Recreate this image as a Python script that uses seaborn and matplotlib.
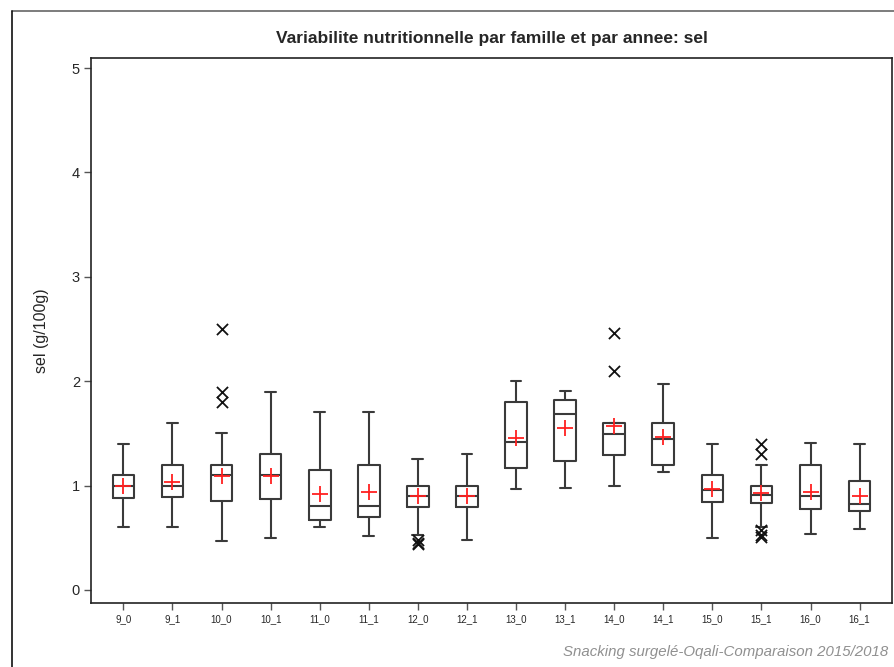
import numpy as np
import pandas as pd
import matplotlib
matplotlib.use("Agg")
import matplotlib.pyplot as plt
from matplotlib.lines import Line2D
import seaborn as sns

# ---- data ----
groups = ["9_0", "9_1", "10_0", "10_1", "11_0", "11_1", "12_0", "12_1",
          "13_0", "13_1", "14_0", "14_1", "15_0", "15_1", "16_0", "16_1"]
whisker_low = [0.60, 0.60, 0.47, 0.50, 0.60, 0.52, 0.53, 0.48,
               0.97, 0.98, 1.00, 1.13, 0.50, 0.60, 0.54, 0.58]
q1 = [0.88, 0.89, 0.85, 0.87, 0.67, 0.70, 0.79, 0.79,
      1.17, 1.24, 1.29, 1.20, 0.84, 0.83, 0.78, 0.76]
median = [1.00, 1.00, 1.10, 1.10, 0.80, 0.80, 0.90, 0.90,
          1.42, 1.69, 1.49, 1.45, 0.96, 0.91, 0.90, 0.82]
q3 = [1.10, 1.20, 1.20, 1.30, 1.15, 1.20, 1.00, 1.00,
      1.80, 1.82, 1.60, 1.60, 1.10, 1.00, 1.20, 1.04]
whisker_high = [1.40, 1.60, 1.50, 1.90, 1.70, 1.70, 1.25, 1.30,
                2.00, 1.91, 1.60, 1.97, 1.40, 1.20, 1.41, 1.40]
means = [1.00, 1.03, 1.09, 1.09, 0.92, 0.94, 0.90, 0.90,
         1.46, 1.55, 1.57, 1.47, 0.97, 0.93, 0.94, 0.90]
outlier_groups = ["10_0", "10_0", "10_0", "12_0", "12_0", "12_0",
                  "14_0", "14_0", "15_1", "15_1", "15_1", "15_1", "15_1"]
outlier_values = [2.50, 1.90, 1.80, 0.48, 0.45, 0.44,
                  2.46, 2.10, 1.40, 1.30, 0.57, 0.53, 0.51]

title = "Variabilite nutritionnelle par famille et par annee: sel"
ylabel = "sel (g/100g)"
footer = "Snacking surgelé-Oqali-Comparaison 2015/2018"
yticks = [0, 1, 2, 3, 4, 5]

# ---- build tables ----
rows = []
for g, a, b, c, d, e in zip(groups, whisker_low, q1, median, q3, whisker_high):
    for v in (a, b, c, d, e):
        rows.append({"groupe": g, "valeur": v})
box_df = pd.DataFrame(rows)
mean_df = pd.DataFrame({"groupe": groups, "valeur": means})
out_df = pd.DataFrame({"groupe": outlier_groups, "valeur": outlier_values})

# ---- figure ----
sns.set_style("white")
plt.rcParams["font.family"] = ["Liberation Sans", "DejaVu Sans"]

W, H = 894, 667
fig = plt.figure(figsize=(W / 100, H / 100), dpi=100)
ax = fig.add_axes([91 / W, 1 - 603 / H, (892 - 91) / W, (603 - 58) / H])

line_col = "#3a3a3a"
sns.boxplot(data=box_df, x="groupe", y="valeur", order=groups, ax=ax,
            whis=(0, 100), fill=False, color=line_col, linewidth=1.5,
            width=0.44, showfliers=False)

sns.stripplot(data=out_df, x="groupe", y="valeur", order=groups, ax=ax,
              jitter=False, marker="x", color="#111111", size=8,
              linewidth=1.3, zorder=4)
sns.stripplot(data=mean_df, x="groupe", y="valeur", order=groups, ax=ax,
              jitter=False, marker="+", color="#ff2020", size=12,
              linewidth=1.3, zorder=5)

ax.set_xlim(-0.66, len(groups) - 1 + 0.66)
ax.set_ylim(-0.125, 5.096)
ax.set_yticks(yticks)
ax.set_yticklabels([str(t) for t in yticks], fontsize=10.5)
ax.set_xticks(range(len(groups)))
ax.set_xticklabels(groups, fontsize=7)
ax.tick_params(axis="both", direction="out", length=5, width=1,
               color="#555555", left=True, bottom=True, pad=3)
ax.set_xlabel("")
ax.set_ylabel(ylabel, fontsize=11.5, labelpad=16)
for s in ax.spines.values():
    s.set_color("#222222")
    s.set_linewidth(1.2)

fig.text((91 + 892) / 2 / W, 1 - 38 / H, title, ha="center", va="center",
         fontsize=12.5, fontweight="bold",
         family=["Liberation Sans Narrow", "Liberation Sans", "DejaVu Sans"])
fig.text(888 / W, 1 - 652 / H, footer, ha="right", va="center",
         fontsize=10.8, style="italic", color="#909090")

# outer frame lines
fig.add_artist(Line2D([12 / W, 1], [1 - 11 / H, 1 - 11 / H],
                      transform=fig.transFigure, color="#666666", lw=1.2))
fig.add_artist(Line2D([12 / W, 12 / W], [0, 1 - 11 / H],
                      transform=fig.transFigure, color="#111111", lw=1.2))

fig.savefig("out.png", dpi=100)
